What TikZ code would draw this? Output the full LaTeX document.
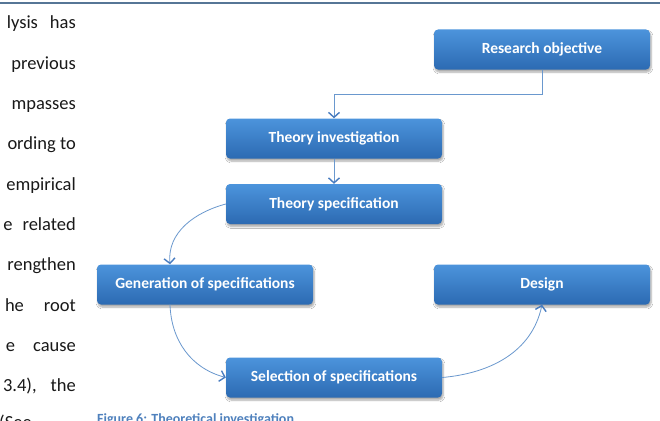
\documentclass[tikz,border=0pt]{standalone}
\usepackage{fontspec}
\setmainfont{Carlito}
\usetikzlibrary{arrows.meta,shadows.blur}
\definecolor{boxtop}{RGB}{76,148,220}
\definecolor{boxbot}{RGB}{44,106,178}
\definecolor{linecol}{RGB}{106,152,206}
\definecolor{tipcol}{RGB}{72,124,192}
\definecolor{rulecol}{RGB}{86,118,150}
\definecolor{capcol}{RGB}{79,129,189}
\tikzset{
  stepbox/.style={rectangle, rounded corners=4pt, minimum width=216pt, minimum height=40pt,
    inner sep=0pt, top color=boxtop, bottom color=boxbot, draw=none,
    text=white, font=\bfseries\fontsize{15.5}{18}\selectfont,
    blur shadow={shadow xshift=1pt, shadow yshift=-2.5pt, shadow blur steps=6, shadow opacity=35}},
  conn/.style={draw=linecol, line width=0.8pt,
    -{Straight Barb[length=5pt,width=11pt,line width=1.4pt,color=tipcol]}},
  bodytext/.style={inner sep=0pt, font=\fontsize{18.5}{20}\selectfont, text={rgb,255:red,25;green,25;blue,25}},
  captext/.style={inner sep=0pt, font=\bfseries\fontsize{14}{16}\selectfont, text=capcol}
}
\begin{document}
\begin{tikzpicture}[x=1pt,y=-1pt]
\useasboundingbox (0,0) rectangle (660,420);
\clip (0,0) rectangle (660,420);
\fill[white] (0,0) rectangle (660,420);
% top rule
\coordinate (r1) at (0,3);
\coordinate (r2) at (660,3);
\draw[rulecol, line width=1.2pt] (r1) -- (r2);
% left text column
\node[bodytext, anchor=base east] (l0) at (76,29) {lysis\hspace{12pt}has};
\node[bodytext, anchor=base east] (l1) at (76,69.3) {previous};
\node[bodytext, anchor=base east] (l2) at (76,109.6) {mpasses};
\node[bodytext, anchor=base east] (l3) at (76,149.9) {ording to};
\node[bodytext, anchor=base east] (l4) at (76,190.2) {empirical};
\node[bodytext, anchor=base east] (l5) at (76,230.5) {e\hspace{10pt}related};
\node[bodytext, anchor=base east] (l6) at (76,270.8) {rengthen};
\node[bodytext, anchor=base east] (l7) at (76,311.1) {he\hspace{20pt}root};
\node[bodytext, anchor=base east] (l8) at (76,351.4) {e\hspace{18pt}cause};
\node[bodytext, anchor=base east] (l9) at (76,391.7) {3.4),\hspace{14pt}the};
\node[bodytext, anchor=base west] (l10) at (-1,428) {(See};
% boxes
\node[stepbox] (ro) at (542,49.5) {Research objective};
\node[stepbox] (ti) at (334,138.5) {Theory investigation};
\node[stepbox] (ts) at (334,204) {Theory specification};
\node[stepbox] (gen) at (205,284.5) {Generation of specifications};
\node[stepbox] (des) at (542,284.5) {Design};
\node[stepbox] (sel) at (334,377.5) {Selection of specifications};
% connectors
\coordinate (e1) at (334,94);
\draw[conn] (ro.south) |- (e1) -- (ti.north);
\draw[conn] (ti.south) -- (ts.north);
\draw[conn] (ts.west) to[out=195,in=95] ([xshift=-35pt]gen.north);
\draw[conn] ([xshift=-35pt]gen.south) to[out=-88,in=165] (sel.west);
\draw[conn] (sel.east) to[out=5,in=-102] (des.south);
% caption
\node[captext, anchor=base west] (cap) at (97,423.5) {Figure 6: Theoretical investigation};
\end{tikzpicture}
\end{document}
